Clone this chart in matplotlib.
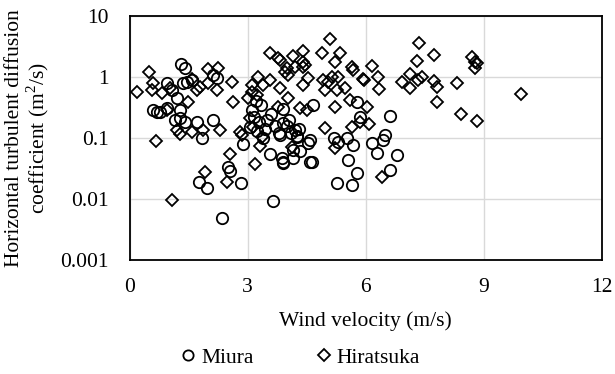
import matplotlib.pyplot as plt
import numpy as np

plt.rcParams['font.family'] = ['Liberation Serif', 'DejaVu Serif']
plt.rcParams['mathtext.fontset'] = 'custom'
plt.rcParams['mathtext.rm'] = 'Liberation Serif'

# Miura observations: wind velocity (m/s), diffusion coefficient (m2/s)
miura_wind = [1.31, 1.41, 0.95, 1.36, 1.46, 1.59, 2.12, 2.22, 0.60, 0.77, 0.95, 1.28,
              1.08, 1.15, 1.28, 1.41, 1.71, 2.12, 1.84, 2.88, 2.50, 2.55, 1.76, 1.97,
              2.83, 2.35, 3.64, 3.57, 3.87, 3.90, 3.90, 4.15, 4.33, 4.58, 4.53, 3.82,
              4.25, 5.20, 5.30, 5.52, 5.68, 5.55, 5.77, 5.27, 5.65, 6.15, 6.28, 6.43,
              6.49, 6.79, 6.61, 6.61, 5.77, 5.85, 3.90, 4.20, 4.25, 4.58, 4.63, 4.15,
              4.66, 3.10, 3.15, 3.05, 3.30, 3.50, 3.45, 3.60, 3.70, 3.80, 4.00, 4.05,
              4.10, 4.30, 3.35, 3.20, 3.90, 3.40, 3.25, 0.70, 1.20]
miura_coef = [1.63, 1.40, 0.80, 0.80, 0.83, 0.89, 1.08, 0.96, 0.29, 0.27, 0.31, 0.29,
              0.61, 0.20, 0.21, 0.18, 0.18, 0.20, 0.10, 0.080, 0.034, 0.029, 0.019, 0.015,
              0.018, 0.0049, 0.0093, 0.055, 0.047, 0.040, 0.039, 0.047, 0.061, 0.041, 0.083, 0.11,
              0.108, 0.10, 0.086, 0.10, 0.077, 0.044, 0.027, 0.018, 0.017, 0.083, 0.057, 0.093,
              0.112, 0.053, 0.030, 0.23, 0.39, 0.22, 0.176, 0.135, 0.104, 0.093, 0.041, 0.064,
              0.35, 0.29, 0.22, 0.15, 0.18, 0.20, 0.14, 0.25, 0.16, 0.12, 0.16, 0.20,
              0.12, 0.14, 0.35, 0.40, 0.30, 0.10, 0.13, 0.27, 0.45]

# Hiratsuka observations
hira_wind = [0.19, 0.50, 0.60, 0.57, 0.82, 1.03, 1.59, 1.71, 1.99, 2.25, 1.99, 2.22,
             2.60, 2.63, 0.95, 1.48, 1.21, 1.59, 1.87, 0.67, 2.30, 2.80, 1.28, 2.55,
             1.92, 2.47, 1.08, 3.19, 2.86, 3.31, 4.12, 3.13, 3.36, 5.22, 1.79,
             3.57, 3.77, 4.15, 4.40, 4.40, 4.45, 4.89, 5.09, 5.34, 5.22, 5.65, 5.68,
             5.93, 4.00, 3.95, 4.02, 4.20, 4.40, 4.53, 4.40, 4.91, 5.04, 5.14, 5.29,
             4.96, 5.27, 5.47, 5.60, 5.22, 4.33, 4.50, 4.96, 3.26, 3.11, 3.39, 3.24,
             3.57, 3.82, 4.02, 3.77, 3.82, 3.11, 3.00, 3.05, 5.65, 5.85, 6.08,
             6.15, 6.31, 5.95, 6.33, 6.03, 6.41,
             7.35, 7.73, 7.30, 8.70, 8.77, 8.82, 8.77, 7.12, 6.92, 7.12, 7.32, 7.42,
             7.73, 7.80, 7.80, 8.31, 8.41, 8.82, 9.94]
hira_coef = [0.57, 1.20, 0.80, 0.61, 0.55, 0.66, 0.93, 0.61, 1.35, 1.40, 0.80, 0.61,
             0.83, 0.39, 0.29, 0.39, 0.135, 0.125, 0.135, 0.090, 0.135, 0.125, 0.116, 0.055,
             0.028, 0.019, 0.0096, 0.037, 0.11, 0.074, 0.071, 0.15, 0.104, 0.068, 0.69,
             2.47, 2.05, 2.20, 2.67, 1.76, 1.57, 2.47, 4.20, 2.47, 1.76, 1.46, 1.30,
             0.93, 1.40, 1.21, 1.08, 1.46, 1.46, 0.96, 0.74, 0.89, 0.83, 1.00, 1.00,
             0.61, 0.61, 0.66, 0.42, 0.32, 0.31, 0.29, 0.146, 1.00, 0.74, 0.74, 0.51,
             0.89, 0.66, 0.45, 0.32, 1.90, 0.57, 0.45, 0.21, 0.15, 0.18, 0.17,
             1.50, 1.00, 0.89, 0.64, 0.32, 0.023,
             3.60, 2.30, 1.83, 2.10, 1.76, 1.70, 1.40, 1.12, 0.83, 0.66, 0.89, 1.00,
             0.86, 0.69, 0.39, 0.80, 0.25, 0.19, 0.53]

x_ticks = [0, 3, 6, 9, 12]
y_ticks = [0.001, 0.01, 0.1, 1, 10]
y_ticklabels = ['0.001', '0.01', '0.1', '1', '10']

fs = 15.5

fig = plt.figure(figsize=(6.15, 3.74), dpi=100)
ax = fig.add_axes([0.2106, 0.3048, 0.7683, 0.6524])

ax.plot(miura_wind, miura_coef, ls='none', marker='o', ms=8.2, mfc='none',
        mec='black', mew=1.3, label='Miura', zorder=3)
ax.plot(hira_wind, hira_coef, ls='none', marker='D', ms=6.5, mfc='none',
        mec='black', mew=1.3, label='Hiratsuka', zorder=3)

ax.set_yscale('log')
ax.set_xlim(0, 12)
ax.set_ylim(0.001, 10)
ax.set_xticks(x_ticks)
ax.set_yticks(y_ticks)
ax.set_yticklabels(y_ticklabels)
ax.minorticks_off()
ax.tick_params(length=0, labelsize=fs)
ax.tick_params(axis='y', pad=15)
ax.tick_params(axis='x', pad=13)
ax.grid(color='#d9d9d9', lw=1.0)
ax.set_axisbelow(True)
for sp in ax.spines.values():
    sp.set_color('black')
    sp.set_linewidth(1.3)

ax.set_xlabel('Wind velocity (m/s)', fontsize=fs)
ax.xaxis.set_label_coords(0.5, -0.21)
ax.set_ylabel('Horizontal turbulent diffusion\ncoefficient (m$^2$/s)', fontsize=fs,
              linespacing=1.0)
ax.yaxis.set_label_coords(-0.166, 0.5)

fig.legend(loc='center', bbox_to_anchor=(0.49, 0.043), ncol=2, frameon=False,
           fontsize=fs, markerscale=0.9, handlelength=0.5, handletextpad=0.35,
           columnspacing=3.0, borderpad=0)

fig.savefig('out.png', dpi=100)
